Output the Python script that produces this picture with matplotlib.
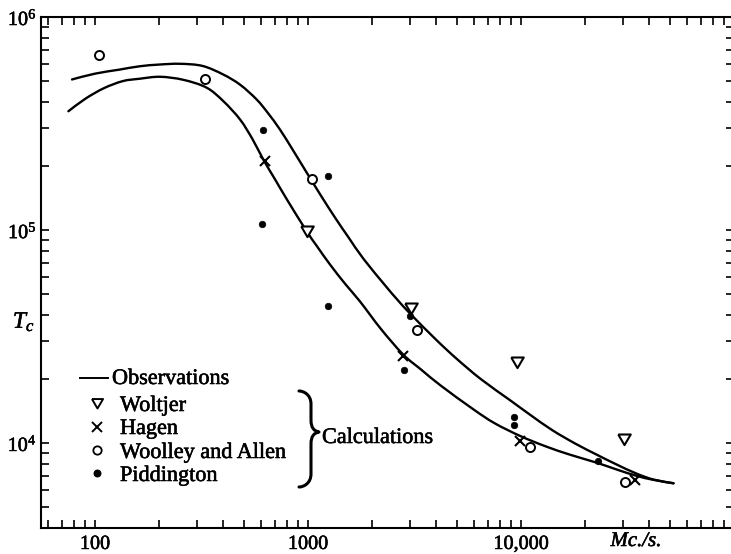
import matplotlib
matplotlib.use('Agg')
import matplotlib.pyplot as plt
from matplotlib.ticker import FixedLocator, LogLocator, NullFormatter, FixedFormatter
from matplotlib.path import Path
from matplotlib.patches import PathPatch
from matplotlib.lines import Line2D
import matplotlib.patheffects as pe
import numpy as np

plt.rcParams['font.family'] = ['Liberation Serif', 'DejaVu Serif']
plt.rcParams['mathtext.fontset'] = 'custom'
plt.rcParams['mathtext.rm'] = 'Liberation Serif'
plt.rcParams['mathtext.it'] = 'Liberation Serif:italic'

# ---------------- data ----------------
obs_upper_f = [78, 100, 130, 162, 200, 251, 320, 400, 480, 574, 650, 739, 850, 986,
               1150, 1350, 1550, 1820, 2300, 2607, 3030, 4000, 5000, 6500, 8870,
               11000, 14000, 18000, 22600, 28000, 34900, 42000, 52000]
obs_upper_t = [5.09e5, 5.42e5, 5.66e5, 5.87e5, 5.98e5, 6.03e5, 5.89e5, 5.37e5, 4.81e5,
               4.10e5, 3.53e5, 2.96e5, 2.37e5, 1.86e5, 1.45e5, 1.13e5, 9.23e4, 7.33e4,
               5.50e4, 4.75e4, 4.03e4, 3.05e4, 2.48e4, 1.99e4, 1.59e4, 1.36e4, 1.15e4,
               9.93e3, 8.83e3, 7.94e3, 7.18e3, 6.73e3, 6.47e3]

obs_lower_f = [75, 90, 110, 135, 162, 202, 260, 334, 400, 480, 550, 617, 700, 800, 986,
               1100, 1268, 1500, 1754, 2200, 2800, 3400, 4200, 5970, 7500, 9890, 13000,
               17000, 22600, 28000, 34900, 42000, 52000]
obs_lower_t = [3.61e5, 4.13e5, 4.63e5, 5.00e5, 5.13e5, 5.24e5, 5.07e5, 4.66e5, 4.03e5,
               3.30e5, 2.66e5, 2.14e5, 1.73e5, 1.38e5, 9.86e4, 8.41e4, 6.89e4, 5.56e4,
               4.62e4, 3.43e4, 2.60e4, 2.21e4, 1.86e4, 1.44e4, 1.24e4, 1.08e4, 9.66e3,
               8.81e3, 8.09e3, 7.52e3, 7.01e3, 6.71e3, 6.47e3]

woltjer_f = [986, 3030, 9550, 30500]
woltjer_t = [9.9e4, 4.31e4, 2.39e4, 1.04e4]

hagen_f = [628, 2800, 9890, 34300]
hagen_t = [2.1e5, 2.56e4, 1.02e4, 6.67e3]

woolley_f = [104, 328, 1040, 3240, 11000, 30700]
woolley_t = [6.6e5, 5.13e5, 1.74e5, 3.41e4, 9.55e3, 6.58e3]

pidd_f = [612, 607, 1245, 1245, 3000, 2820, 9270, 9270, 22900]
pidd_t = [2.94e5, 1.07e5, 1.79e5, 4.4e4, 3.94e4, 2.19e4, 1.32e4, 1.21e4, 8.22e3]

x_major = [100, 1000, 10000]
x_major_labels = ['100', '1000', '10,000']
y_major = [1e4, 1e5, 1e6]
y_major_labels = [r'$10^4$', r'$10^5$', r'$10^6$']

legend_labels = ['Observations', 'Woltjer', 'Hagen', 'Woolley and Allen', 'Piddington']
group_label = 'Calculations'
x_unit = 'Mc./s.'
y_label = r'$T_c$'

# ---------------- figure ----------------
W, H = 731, 554
fig = plt.figure(figsize=(W / 100, H / 100), dpi=100)
ax = fig.add_axes([41 / W, 1 - 528 / H, 693 / W, 511 / H])
ax.set_xscale('log')
ax.set_yscale('log')
ax.set_xlim(10 ** (2 - 54 / 213), 1e5)
ax.set_ylim(10 ** (6 - 511 / 213), 1e6)

for s in ax.spines.values():
    s.set_linewidth(1.5)

heavy = [pe.withStroke(linewidth=0.4, foreground='black')]

ax.xaxis.set_major_locator(FixedLocator(x_major))
ax.xaxis.set_major_formatter(FixedFormatter(x_major_labels))
ax.yaxis.set_major_locator(FixedLocator(y_major))
ax.yaxis.set_major_formatter(FixedFormatter(y_major_labels))
ax.xaxis.set_minor_locator(LogLocator(base=10, subs=np.arange(2, 10), numticks=50))
ax.yaxis.set_minor_locator(LogLocator(base=10, subs=np.arange(2, 10), numticks=50))
ax.xaxis.set_minor_formatter(NullFormatter())
ax.yaxis.set_minor_formatter(NullFormatter())
ax.tick_params(which='both', direction='in', top=True, right=True,
               length=6, width=1.2, labelsize=14.5)
ax.tick_params(axis='x', pad=5)
ax.tick_params(axis='y', pad=3)
for lab in ax.get_xticklabels() + ax.get_yticklabels():
    lab.set_path_effects(heavy)


def smooth_path(fx, ty):
    """Smooth (Catmull-Rom as cubic Bezier) path through the read points, built in log space."""
    lx, ly = np.log10(fx), np.log10(ty)
    n = len(lx)
    verts = [(fx[0], ty[0])]
    codes = [Path.MOVETO]
    for i in range(n - 1):
        i0, i3 = max(i - 1, 0), min(i + 2, n - 1)
        c1 = (lx[i] + (lx[i + 1] - lx[i0]) / 6, ly[i] + (ly[i + 1] - ly[i0]) / 6)
        c2 = (lx[i + 1] - (lx[i3] - lx[i]) / 6, ly[i + 1] - (ly[i3] - ly[i]) / 6)
        verts += [(10 ** c1[0], 10 ** c1[1]), (10 ** c2[0], 10 ** c2[1]), (fx[i + 1], ty[i + 1])]
        codes += [Path.CURVE4] * 3
    return Path(verts, codes)


for fx, ty in [(obs_upper_f, obs_upper_t), (obs_lower_f, obs_lower_t)]:
    ax.add_patch(PathPatch(smooth_path(fx, ty), fill=False, ec='k', lw=1.7,
                           capstyle='round', joinstyle='round'))

tri = [(-1, 0.8), (1, 0.8), (0, -0.9), (-1, 0.8)]
mk_kw = dict(ls='none', clip_on=False)
ax.plot(woltjer_f, woltjer_t, marker=tri, ms=9, mfc='white', mec='k', mew=1.5, **mk_kw)
ax.plot(hagen_f, hagen_t, marker='x', ms=7.5, mec='k', mew=1.5, **mk_kw)
ax.plot(woolley_f, woolley_t, marker='o', ms=6.5, mfc='white', mec='k', mew=1.4, **mk_kw)
ax.plot(pidd_f, pidd_t, marker='o', ms=4.7, mfc='k', mec='k', mew=0.5, **mk_kw)


def P(x, y):
    return x / W, 1 - y / H


# legend (manual)
fs = 16
lx0, lx1 = P(80, 378)[0], P(108, 378)[0]
fig.add_artist(Line2D([lx0, lx1], [P(0, 378)[1]] * 2, transform=fig.transFigure,
                      color='k', lw=1.4))
fig.text(*P(112, 384), legend_labels[0], fontsize=fs, va='baseline', ha='left',
         path_effects=heavy)

rows_y = [403, 427, 450, 473]
base_y = [411, 434, 458, 481]
markers = [dict(marker=tri, ms=8, mfc='white', mec='k', mew=1.4),
           dict(marker='x', ms=6.5, mec='k', mew=1.4),
           dict(marker='o', ms=6, mfc='white', mec='k', mew=1.3),
           dict(marker='o', ms=4.7, mfc='k', mec='k')]
for lab, ry, by, mk in zip(legend_labels[1:], rows_y, base_y, markers):
    fig.add_artist(Line2D([P(96.5, 0)[0]], [P(0, ry)[1]], transform=fig.transFigure,
                          ls='none', **mk))
    fig.text(*P(120, by), lab, fontsize=fs, va='baseline', ha='left', path_effects=heavy)

# brace
pts = [(299, 391), (304, 391), (311, 395), (311, 404),
       (311, 420),
       (311, 428), (314, 431), (319, 432),
       (314, 433), (311, 436), (311, 444),
       (311, 474),
       (311, 483), (304, 487), (299, 487)]
codes = [Path.MOVETO, Path.CURVE4, Path.CURVE4, Path.CURVE4,
         Path.LINETO,
         Path.CURVE4, Path.CURVE4, Path.CURVE4,
         Path.CURVE4, Path.CURVE4, Path.CURVE4,
         Path.LINETO,
         Path.CURVE4, Path.CURVE4, Path.CURVE4]
brace = Path([P(x, y) for x, y in pts], codes)
fig.add_artist(PathPatch(brace, transform=fig.transFigure, fill=False, lw=2.2,
                         ec='k', capstyle='round', joinstyle='round'))
fig.text(*P(322, 443), group_label, fontsize=fs, va='baseline', ha='left',
         path_effects=heavy)

# axis unit and y label
fig.text(*P(636, 546), x_unit, fontsize=15, style='italic', va='baseline', ha='center',
         path_effects=heavy)
fig.text(*P(24, 322), y_label, fontsize=17, va='center', ha='center', path_effects=heavy)

fig.savefig('out.png', dpi=100)
